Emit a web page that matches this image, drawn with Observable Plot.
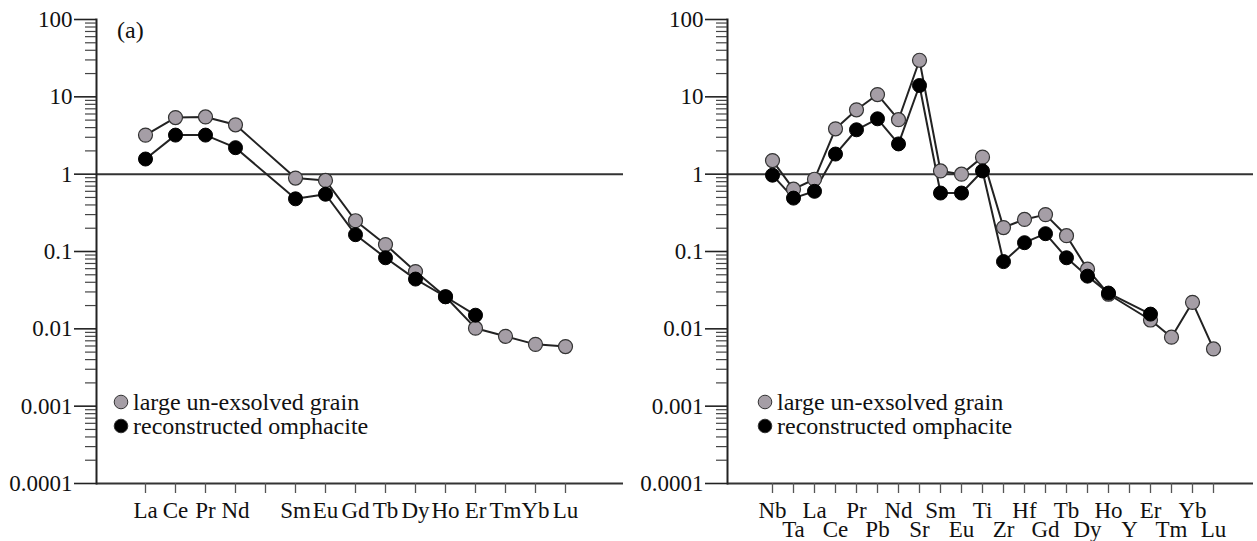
<!DOCTYPE html>
<html>
<head>
<meta charset="utf-8">
<script src="https://cdn.jsdelivr.net/npm/d3@7"></script>
<script src="https://cdn.jsdelivr.net/npm/@observablehq/plot@0.6"></script>
<style>
  html, body { margin: 0; padding: 0; background: #fff; }
  #wrap { position: relative; width: 1257px; height: 541px; display: flex; font-family: "Liberation Serif", "Times New Roman", serif; }
  .panel { position: relative; height: 541px; }
  .legend { position: absolute; font-size: 24px; line-height: 24px; color: #111; }
  .legend .row { display: flex; align-items: center; height: 24px; white-space: nowrap; }
  .legend svg { margin-right: 4px; }
  .tag { position: absolute; font-size: 24px; line-height: 1; color: #111; }
</style>
</head>
<body>
<div id="wrap">
  <div class="panel" id="left" style="width:628px"></div>
  <div class="panel" id="right" style="width:629px"></div>
</div>
<script>
// ---------- data ----------
const leftElements = ["La","Ce","Pr","Nd","Pm","Sm","Eu","Gd","Tb","Dy","Ho","Er","Tm","Yb","Lu"];
const leftLabels   = ["La","Ce","Pr","Nd","","Sm","Eu","Gd","Tb","Dy","Ho","Er","Tm","Yb","Lu"];
const leftGrain    = [3.2, 5.4, 5.5, 4.35, null, 0.89, 0.83, 0.25, 0.123, 0.055, 0.026, 0.0102, 0.008, 0.0063, 0.0059];
const leftOmph     = [1.57, 3.2, 3.2, 2.2, null, 0.48, 0.55, 0.165, 0.083, 0.044, 0.026, 0.015, null, null, null];

const rightElements = ["Nb","Ta","La","Ce","Pr","Pb","Nd","Sr","Sm","Eu","Ti","Zr","Hf","Gd","Tb","Dy","Ho","Y","Er","Tm","Yb","Lu"];
const rightGrain    = [1.5, 0.64, 0.86, 3.86, 6.8, 10.7, 5.06, 29.7, 1.1, 1.0, 1.66, 0.204, 0.26, 0.30, 0.16, 0.059, 0.028, null, 0.013, 0.0078, 0.022, 0.0055];
const rightOmph     = [0.97, 0.49, 0.6, 1.82, 3.75, 5.2, 2.46, 14, 0.57, 0.57, 1.1, 0.074, 0.13, 0.17, 0.083, 0.048, 0.029, null, 0.0155, null, null, null];

const seriesNames = ["large un-exsolved grain", "reconstructed omphacite"];
const seriesFill  = ["#a59ea6", "#000000"];

const majorTicks = [0.0001, 0.001, 0.01, 0.1, 1, 10, 100];
const minorTicks = [];
for (let k = -4; k <= 1; k++) for (let m = 2; m <= 9; m++) minorTicks.push(+(m * Math.pow(10, k)).toPrecision(3));

const FONT = '"Liberation Serif", "Times New Roman", serif';

function rows(elements, values, series) {
  return elements.map((e, i) => ({element: e, value: values[i], series})).filter(d => d.value != null);
}

function panel({elements, grain, omph, width, marginLeft, marginRight, xRange, labelMarks}) {
  const g = rows(elements, grain, seriesNames[0]);
  const o = rows(elements, omph, seriesNames[1]);
  return Plot.plot({
    width, height: 541,
    marginTop: 19, marginBottom: 58, marginLeft, marginRight,
    style: {fontFamily: FONT, fontSize: "23px", color: "#111", background: "#fff"},
    x: {type: "point", domain: elements, range: xRange, axis: null},
    y: {type: "log", domain: [0.0001, 100], axis: null},
    marks: [
      Plot.ruleY([0.0001, 1], {stroke: "#333", strokeWidth: 2}),
      Plot.frame({anchor: "left", stroke: "#222", strokeWidth: 2}),
      Plot.axisY(majorTicks, {label: null, tickSize: 22, tickPadding: 2, tickFormat: d => String(d), stroke: "#222", strokeWidth: 1.6, strokeOpacity: 1, fontSize: 23}),
      Plot.axisY(minorTicks, {label: null, tickSize: 11, tickFormat: () => "", stroke: "#444", strokeWidth: 1.2, strokeOpacity: 1}),
      Plot.axisX(elements, {label: null, tickSize: 10, tickFormat: () => "", stroke: "#555", strokeWidth: 1.3, strokeOpacity: 1}),
      ...labelMarks,
      Plot.line(g, {x: "element", y: "value", stroke: "#222", strokeWidth: 2}),
      Plot.line(o, {x: "element", y: "value", stroke: "#222", strokeWidth: 2}),
      Plot.dot(g, {x: "element", y: "value", r: 7, fill: seriesFill[0], stroke: "#333", strokeWidth: 1.2}),
      Plot.dot(o, {x: "element", y: "value", r: 7, fill: seriesFill[1], stroke: "#000", strokeWidth: 1})
    ]
  });
}

const leftPlot = panel({
  elements: leftElements, grain: leftGrain, omph: leftOmph,
  width: 628, marginLeft: 96, marginRight: 5, xRange: [127, 583],
  labelMarks: [
    Plot.axisX(leftElements, {label: null, tickSize: 0, tickPadding: 18, tickFormat: d => leftLabels[leftElements.indexOf(d)], fontSize: 23})
  ]
});

const evenEls = rightElements.filter((d, i) => i % 2 === 0);
const oddEls  = rightElements.filter((d, i) => i % 2 === 1);
const rightPlot = panel({
  elements: rightElements, grain: rightGrain, omph: rightOmph,
  width: 629, marginLeft: 99, marginRight: 4, xRange: [124, 605],
  labelMarks: [
    Plot.axisX(evenEls, {label: null, tickSize: 0, tickPadding: 18, fontSize: 23}),
    Plot.axisX(oddEls,  {label: null, tickSize: 0, tickPadding: 37, fontSize: 23})
  ]
});

function legend(container, left, top) {
  const div = document.createElement("div");
  div.className = "legend";
  div.style.left = left + "px";
  div.style.top = top + "px";
  seriesNames.forEach((name, i) => {
    const row = document.createElement("div");
    row.className = "row";
    row.innerHTML = `<svg width="16" height="16"><circle cx="8" cy="8" r="6.8" fill="${seriesFill[i]}" stroke="#333" stroke-width="1"/></svg><span>${name}</span>`;
    div.appendChild(row);
  });
  container.appendChild(div);
}

const L = document.getElementById("left");
const R = document.getElementById("right");
L.appendChild(leftPlot);
R.appendChild(rightPlot);
legend(L, 113, 390);
legend(R, 129, 390);

const tag = document.createElement("div");
tag.className = "tag";
tag.textContent = "(a)";
tag.style.left = "117px";
tag.style.top = "18px";
L.appendChild(tag);
</script>
</body>
</html>
